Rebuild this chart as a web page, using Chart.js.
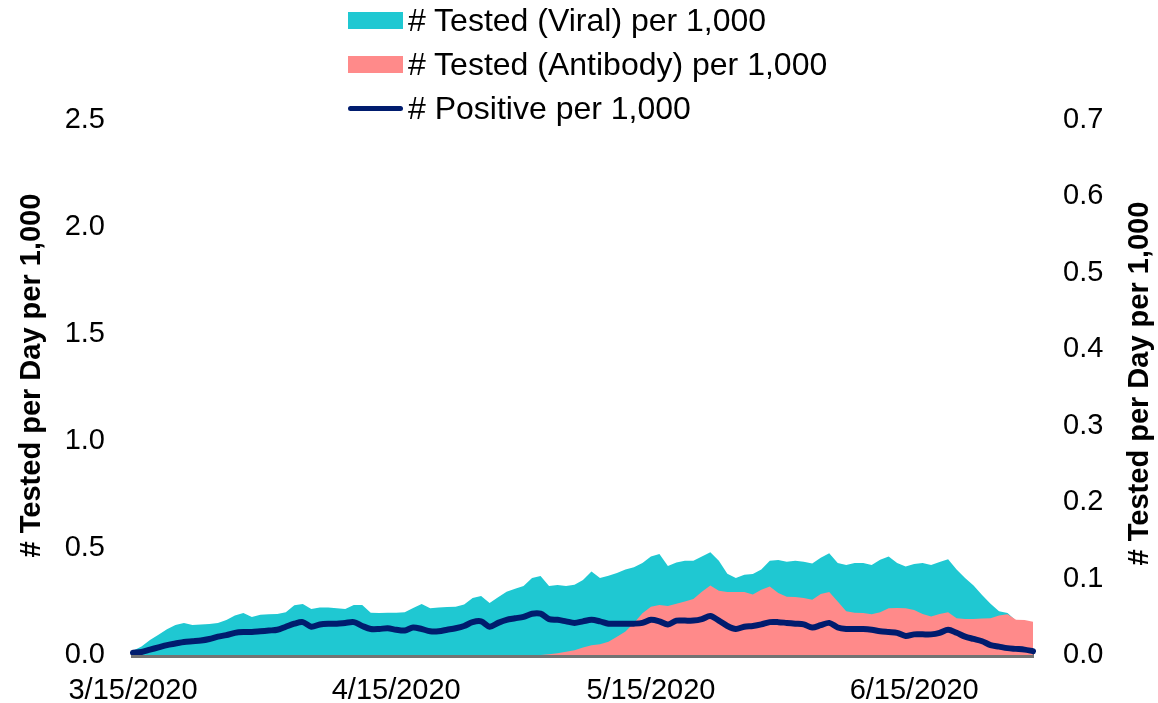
<!DOCTYPE html>
<html>
<head>
<meta charset="utf-8">
<script src="https://cdn.jsdelivr.net/npm/chart.js"></script>
<style>
  html, body { margin: 0; padding: 0; background: #fff; }
  #wrap { position: relative; width: 1158px; height: 703px; }
  #legend { position: absolute; left: 348px; top: -2px; font-family: 'Liberation Sans', Arial, sans-serif; font-size: 32px; color: #000; }
  #legend .item { height: 44px; display: flex; align-items: center; }
  #legend .sw { width: 55px; margin-right: 5px; }
</style>
</head>
<body>
<div id="wrap">
  <canvas id="chart" width="1158" height="703"></canvas>
  <div id="legend"></div>
</div>
<script>
// daily values from 3/15/2020 through 6/29/2020
const startDate = new Date(2020, 2, 15);
const dayCount = 107;
const tickLabels = ['3/15/2020', '4/15/2020', '5/15/2020', '6/15/2020'];

const viralPer1000 = [
  0.02, 0.04, 0.07, 0.095, 0.12, 0.14, 0.15, 0.14, 0.142, 0.145,
  0.15, 0.163, 0.185, 0.196, 0.178, 0.188, 0.19, 0.192, 0.2, 0.232,
  0.238, 0.215, 0.222, 0.222, 0.218, 0.215, 0.234, 0.234, 0.198, 0.196,
  0.197, 0.198, 0.2, 0.22, 0.238, 0.218, 0.222, 0.224, 0.226, 0.236,
  0.266, 0.276, 0.243, 0.27, 0.295, 0.31, 0.322, 0.36, 0.369, 0.322,
  0.327, 0.323, 0.328, 0.35, 0.39, 0.36, 0.37, 0.383, 0.4, 0.41,
  0.43, 0.46, 0.472, 0.416, 0.432, 0.44, 0.44, 0.46, 0.48, 0.44,
  0.38, 0.36, 0.375, 0.378, 0.4, 0.44, 0.444, 0.436, 0.44, 0.436,
  0.428, 0.455, 0.475, 0.43, 0.42, 0.43, 0.43, 0.42, 0.445, 0.46,
  0.43, 0.413, 0.425, 0.43, 0.42, 0.435, 0.448, 0.40, 0.36, 0.325,
  0.28, 0.24, 0.205, 0.196, 0.16, 0.15, 0.14
];

const antibodyPer1000 = [
  0, 0, 0, 0, 0, 0, 0, 0, 0, 0,
  0, 0, 0, 0, 0, 0, 0, 0, 0, 0,
  0, 0, 0, 0, 0, 0, 0, 0, 0, 0,
  0, 0, 0, 0, 0, 0, 0, 0, 0, 0,
  0, 0, 0, 0, 0, 0, 0, 0, 0, 0.003,
  0.008, 0.015, 0.022, 0.035, 0.045, 0.05, 0.062, 0.085, 0.11, 0.15,
  0.195, 0.225, 0.234, 0.229, 0.24, 0.25, 0.262, 0.295, 0.325, 0.3,
  0.294, 0.294, 0.294, 0.283, 0.305, 0.32, 0.29, 0.272, 0.271, 0.266,
  0.258, 0.285, 0.294, 0.25, 0.205, 0.198, 0.196, 0.191, 0.2, 0.218,
  0.22, 0.218, 0.21, 0.192, 0.18, 0.192, 0.2, 0.172, 0.168, 0.168,
  0.17, 0.172, 0.185, 0.19, 0.165, 0.163, 0.155
];

const positivePer1000 = [
  0.003, 0.004, 0.007, 0.01, 0.013, 0.015, 0.017, 0.018, 0.019, 0.021,
  0.024, 0.026, 0.029, 0.030, 0.030, 0.031, 0.032, 0.033, 0.037, 0.041,
  0.043, 0.037, 0.040, 0.041, 0.041, 0.042, 0.043, 0.038, 0.034, 0.034,
  0.035, 0.033, 0.032, 0.036, 0.034, 0.031, 0.031, 0.033, 0.035, 0.038,
  0.043, 0.044, 0.037, 0.042, 0.046, 0.048, 0.050, 0.054, 0.054, 0.047,
  0.046, 0.044, 0.042, 0.044, 0.046, 0.044, 0.041, 0.041, 0.041, 0.041,
  0.042, 0.046, 0.044, 0.040, 0.045, 0.045, 0.045, 0.047, 0.051, 0.045,
  0.038, 0.034, 0.037, 0.038, 0.04, 0.043, 0.043, 0.042, 0.041, 0.04,
  0.036, 0.039, 0.042, 0.036, 0.034, 0.034, 0.034, 0.033, 0.031, 0.030,
  0.029, 0.025, 0.027, 0.027, 0.027, 0.029, 0.033, 0.029, 0.024, 0.021,
  0.018, 0.013, 0.011, 0.009, 0.008, 0.007, 0.005
];

const dates = [];
for (let i = 0; i < dayCount; i++) {
  const d = new Date(startDate.getFullYear(), startDate.getMonth(), startDate.getDate() + i);
  dates.push((d.getMonth() + 1) + '/' + d.getDate() + '/' + d.getFullYear());
}

const FONT = "'Liberation Sans', Arial, sans-serif";
const TEAL = '#1fc8d2';
const PINK = '#ff8a8a';
const NAVY = '#001c6e';
const AXIS_TITLE = '# Tested per Day per 1,000';

// both axis titles read bottom-to-top
const axisTitles = {
  id: 'axisTitles',
  afterDraw(chart) {
    const ctx = chart.ctx;
    const area = chart.chartArea;
    const mid = (area.top + area.bottom) / 2;
    ctx.save();
    ctx.font = 'bold 29px ' + FONT;
    ctx.fillStyle = '#000';
    ctx.textAlign = 'center';
    ctx.textBaseline = 'middle';
    [[32, mid - 12], [1140, mid - 4]].forEach(([x, y]) => {
      ctx.save();
      ctx.translate(x, y);
      ctx.rotate(-Math.PI / 2);
      ctx.fillText(AXIS_TITLE, 0, 0);
      ctx.restore();
    });
    ctx.restore();
  }
};

const chart = new Chart(document.getElementById('chart'), {
  type: 'line',
  data: {
    labels: dates,
    datasets: [
      { label: '# Tested (Viral) per 1,000', data: viralPer1000, yAxisID: 'y', order: 2,
        borderWidth: 0, borderColor: TEAL, backgroundColor: TEAL, fill: 'origin', pointRadius: 0, tension: 0 },
      { label: '# Tested (Antibody) per 1,000', data: antibodyPer1000, yAxisID: 'y', order: 1,
        borderWidth: 0, borderColor: PINK, backgroundColor: PINK, fill: 'origin', pointRadius: 0, tension: 0 },
      { label: '# Positive per 1,000', data: positivePer1000, yAxisID: 'y1', order: 0,
        borderWidth: 6, borderColor: NAVY, backgroundColor: NAVY, fill: false, pointRadius: 0,
        tension: 0.3, borderCapStyle: 'round', borderJoinStyle: 'round' }
    ]
  },
  options: {
    responsive: false,
    animation: false,
    layout: { padding: { top: 120, left: 0, right: 0, bottom: 0 } },
    plugins: { legend: { display: false }, tooltip: { enabled: false } },
    scales: {
      x: {
        type: 'category',
        offset: false,
        z: 1,
        grid: { display: false, drawTicks: false },
        border: { display: true, color: '#737373', width: 5 },
        ticks: {
          autoSkip: false, maxRotation: 0, minRotation: 0, padding: 19,
          color: '#000', font: { family: FONT, size: 29 },
          callback: function (v) { const l = this.getLabelForValue(v); return tickLabels.includes(l) ? l : ''; }
        },
        afterFit: s => { s.height = 48; }
      },
      y: {
        position: 'left', min: 0, max: 2.5,
        grid: { display: false, drawTicks: false },
        border: { display: false },
        ticks: { stepSize: 0.5, padding: 28, color: '#000', font: { family: FONT, size: 29 },
          callback: v => v.toFixed(1) },
        afterFit: s => { s.width = 133; }
      },
      y1: {
        position: 'right', min: 0, max: 0.7,
        grid: { display: false, drawTicks: false },
        border: { display: false },
        ticks: { stepSize: 0.1, padding: 30, color: '#000', font: { family: FONT, size: 29 },
          callback: v => v.toFixed(1) },
        afterFit: s => { s.width = 125; }
      }
    }
  },
  plugins: [axisTitles]
});

// legend stacked vertically above the plot
const legendEl = document.getElementById('legend');
chart.data.datasets.forEach(ds => {
  const item = document.createElement('div');
  item.className = 'item';
  const sw = document.createElement('span');
  sw.className = 'sw';
  if (ds.fill) {
    sw.style.height = '17px';
    sw.style.background = ds.backgroundColor;
  } else {
    sw.style.height = '5px';
    sw.style.borderRadius = '3px';
    sw.style.background = ds.borderColor;
  }
  item.appendChild(sw);
  item.appendChild(document.createTextNode(ds.label));
  legendEl.appendChild(item);
});
</script>
</body>
</html>
